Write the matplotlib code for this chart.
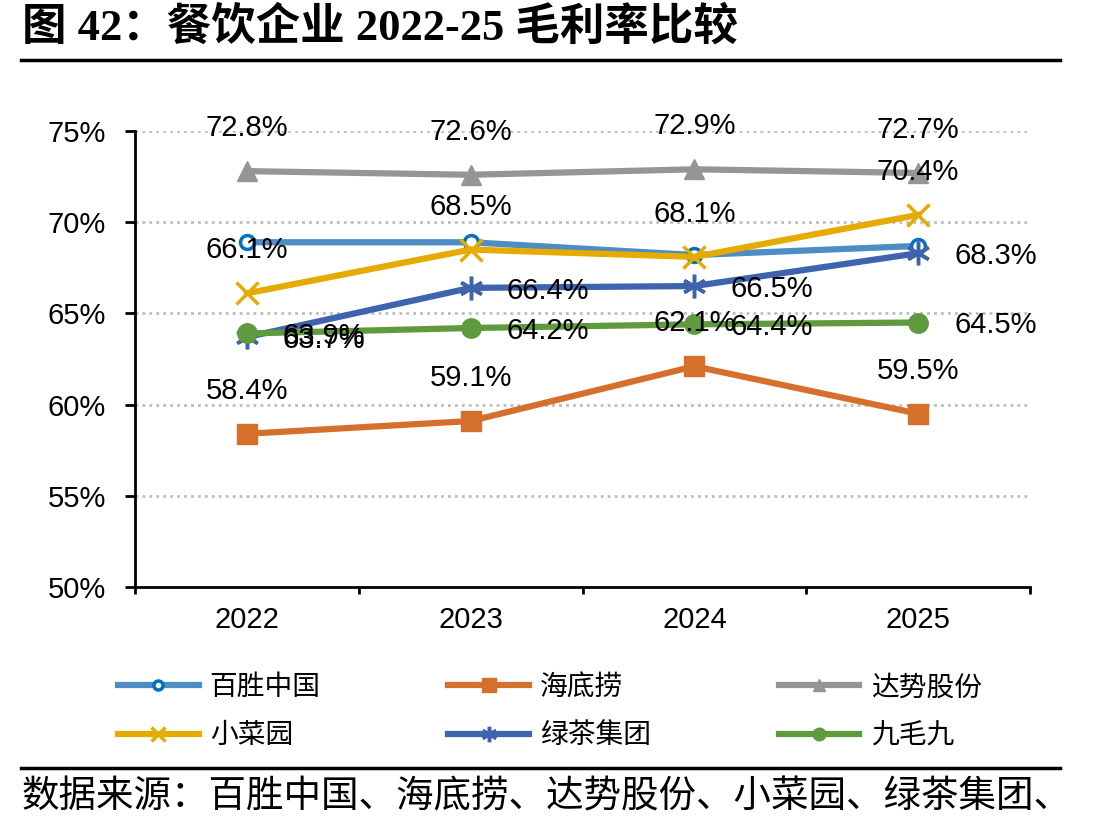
import matplotlib
matplotlib.use('Agg')
import matplotlib.pyplot as plt
from matplotlib.lines import Line2D
import numpy as np

plt.rcParams['font.family'] = ['Liberation Sans', 'Noto Sans CJK SC']

years = ['2022', '2023', '2024', '2025']
yum_china = [68.9, 68.9, 68.2, 68.7]
haidilao = [58.4, 59.1, 62.1, 59.5]
dpc_dash = [72.8, 72.6, 72.9, 72.7]
xiaocaiyuan = [66.1, 68.5, 68.1, 70.4]
green_tea = [63.7, 66.4, 66.5, 68.3]
jiumaojiu = [63.9, 64.2, 64.4, 64.5]

names = ['百胜中国', '海底捞', '达势股份', '小菜园', '绿茶集团', '九毛九']
values = [yum_china, haidilao, dpc_dash, xiaocaiyuan, green_tea, jiumaojiu]

styles = [
    dict(color='#4E8CC4', marker='o', ms=10, mfc='white', mec='#0070C0', mew=2.5, lab=None),
    dict(color='#D4702B', marker='s', ms=15, mfc='#D4702B', mec='#D4702B', mew=1, lab='above'),
    dict(color='#959595', marker='^', ms=14, mfc='#959595', mec='#959595', mew=1, lab='above'),
    dict(color='#E5AB00', marker='x', ms=16, mfc='#E5AB00', mec='#E5AB00', mew=2.5, lab='above'),
    dict(color='#3F64AE', marker=(6, 2, 0), ms=17, mfc='#3F64AE', mec='#3F64AE', mew=2.5, lab='right'),
    dict(color='#5F9A3E', marker='o', ms=14, mfc='#5F9A3E', mec='#5F9A3E', mew=1, lab='right'),
]

fig = plt.figure(figsize=(11.09, 8.25), dpi=100)
ax = fig.add_axes([135/1109, 1-587/825, (1030-135)/1109, (587-131)/825])

x = np.arange(len(years))
handles = []
for name, vals, st in zip(names, values, styles):
    h, = ax.plot(x, vals, color=st['color'], lw=4.5, marker=st['marker'], ms=st['ms'],
                 mfc=st['mfc'], mec=st['mec'], mew=st['mew'], label=name, zorder=3)
    handles.append(h)
    for xi, v in zip(x, vals):
        if st['lab'] == 'above':
            ax.annotate('%.1f%%' % v, (xi, v), xytext=(0, 31), textcoords='offset points',
                        ha='center', va='center', fontsize=21, zorder=5)
        elif st['lab'] == 'right':
            ax.annotate('%.1f%%' % v, (xi, v), xytext=(26, -2), textcoords='offset points',
                        ha='left', va='center', fontsize=21, zorder=5)

ax.set_xlim(-0.5, 3.5)
ax.set_ylim(50, 75)
ax.set_yticks(np.arange(50, 76, 5))
ax.set_yticklabels(['%d%%' % v for v in np.arange(50, 76, 5)])
ax.set_xticks(x)
ax.set_xticklabels(years)
ax.set_xticks(np.arange(-0.5, 3.6, 1), minor=True)
ax.tick_params(axis='x', which='major', length=0, pad=14, labelsize=21)
ax.tick_params(axis='x', which='minor', length=5, width=2, direction='out')
ax.tick_params(axis='y', length=7, width=2, pad=14, labelsize=21)

for v in np.arange(55, 76, 5):
    ax.axhline(v, color='#BDBDBD', lw=2, ls=(0, (1, 1.5)), zorder=1)

for s in ['top', 'right']:
    ax.spines[s].set_visible(False)
for s in ['left', 'bottom']:
    ax.spines[s].set_linewidth(2)

# legend fills by column, so reorder to read row by row
order = [0, 3, 1, 4, 2, 5]
leg = fig.legend([handles[i] for i in order], [names[i] for i in order],
                 loc='upper left', bbox_to_anchor=(118/1109, 1-675/825), ncol=3,
                 frameon=False, fontsize=20, handlelength=2.9, handletextpad=0.4,
                 columnspacing=4.6, labelspacing=0.8, markerscale=0.65, borderaxespad=0,
                 borderpad=0)

fig.text(22/1109, 1-27/825, '图 42：餐饮企业 2022-25 毛利率比较', fontsize=32, fontweight='bold',
         family=['Liberation Serif', 'Noto Sans CJK SC'], ha='left', va='center')
fig.add_artist(Line2D([21/1109, 1060/1109], [1-60/825, 1-60/825], color='black', lw=2.5,
                      transform=fig.transFigure))
fig.add_artist(Line2D([21/1109, 1060/1109], [1-768/825, 1-768/825], color='black', lw=2.5,
                      transform=fig.transFigure))
fig.text(22/1109, 1-797/825, '数据来源：百胜中国、海底捞、达势股份、小菜园、绿茶集团、',
         fontsize=27, family=['Noto Sans CJK SC'], ha='left', va='center')

fig.savefig('out.png', dpi=100)
